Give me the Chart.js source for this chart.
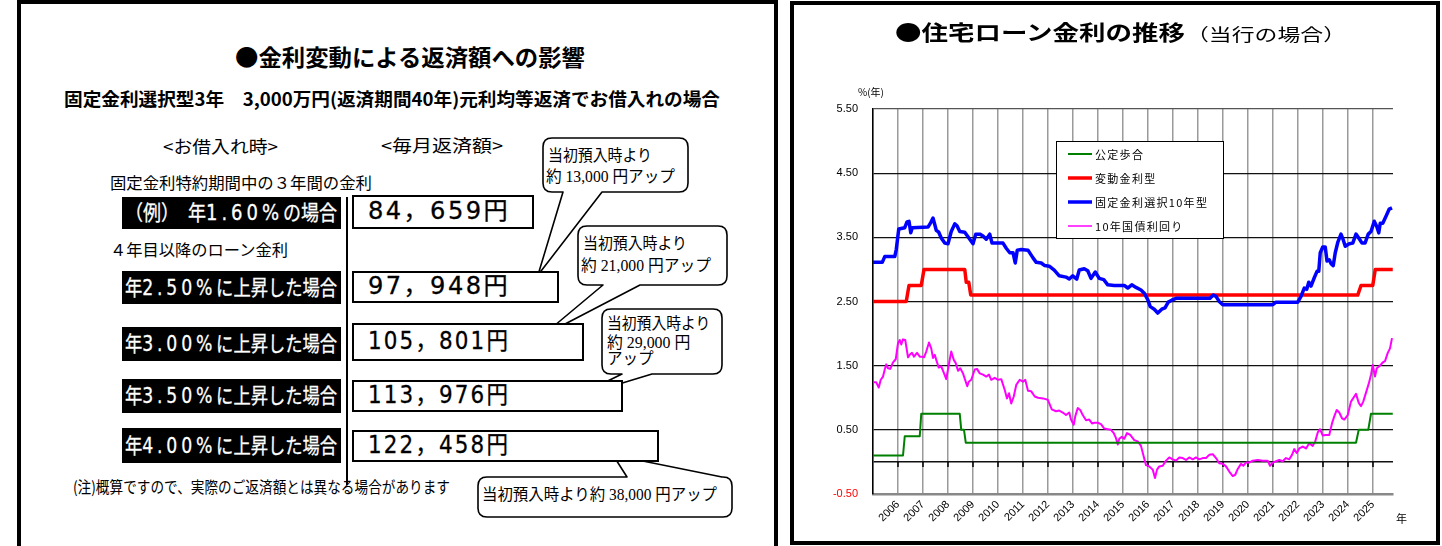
<!DOCTYPE html>
<html><head><meta charset="utf-8">
<script src="https://cdn.jsdelivr.net/npm/chart.js@4.4.1/dist/chart.umd.min.js"></script>
<style>
html,body{margin:0;padding:0;background:#fff;}
body{width:1442px;height:546px;position:relative;overflow:hidden;font-family:"Noto Sans CJK JP","Noto Sans",sans-serif;color:#000;}
#stage{position:absolute;left:0;top:0;width:1442px;height:546px;}
.t{position:absolute;white-space:nowrap;line-height:1;transform-origin:0 0;}
.fw{font-family:"DejaVu Sans","Noto Sans CJK JP",sans-serif;letter-spacing:0.22em;}
.box{position:absolute;box-sizing:border-box;}
#chartWrap{position:absolute;left:791px;top:60px;width:648px;height:484px;}
svg{position:absolute;left:0;top:0;}
</style></head>
<body>
<div id="stage">
  <div class="box" style="left:17px;top:0;width:761px;height:580px;border:4px solid #000;"></div>
  <svg id="bub" width="1442" height="546"></svg>
  <div id="chartWrap"><canvas id="c"></canvas></div>
  <div class="box" style="left:790px;top:1px;width:650px;height:544px;border:4px solid #000;pointer-events:none;"></div>
</div>
<script>
// ---------- left panel data ----------
const rateLabels = ['（例）　年1.60%の場合','年2.50%に上昇した場合','年3.00%に上昇した場合','年3.50%に上昇した場合','年4.00%に上昇した場合'];
const monthlyPayments = [84659, 97948, 105801, 113976, 122458];
const calloutTexts = [
  ['当初預入時より','約 13,000 円アップ'],
  ['当初預入時より','約 21,000 円アップ'],
  ['当初預入時より','約 29,000 円','アップ'],
  ['当初預入時より約 38,000 円アップ']
];

// ---------- right chart data ----------
const seriesNames = ['公定歩合','変動金利型','固定金利選択10年型','10年国債利回り'];
const xTickValues = [2005,2006,2007,2008,2009,2010,2011,2012,2013,2014,2015,2016,2017,2018,2019,2020,2021,2022,2023,2024,2025];
const yTickValues = [-0.5,0,0.5,1.5,2.5,3.5,4.5,5.5];

const discountX = [2005.00,2006.20,2006.27,2006.87,2006.93,2008.47,2008.53,2008.64,2008.71,2024.32,2024.43,2024.81,2024.92,2025.79];
const discountY = [0.10,0.10,0.40,0.40,0.75,0.75,0.50,0.50,0.30,0.30,0.50,0.50,0.75,0.75];

const variableX = [2005.00,2006.33,2006.44,2006.93,2007.04,2008.67,2008.73,2008.83,2008.91,2024.39,2024.52,2024.99,2025.09,2025.79];
const variableY = [2.50,2.50,2.75,2.75,3.00,3.00,2.80,2.80,2.60,2.60,2.75,2.75,3.00,3.00];

const fixed10X = [2005.00,2005.37,2005.47,2005.87,2005.93,2006.03,2006.27,2006.36,2006.44,2006.51,2006.57,2007.20,2007.31,2007.40,2007.47,2007.53,2007.63,2007.73,2007.87,2008.00,2008.13,2008.27,2008.36,2008.47,2008.67,2008.87,2009.00,2009.11,2009.27,2009.40,2009.53,2009.67,2009.76,2010.20,2010.33,2010.47,2010.60,2010.69,2010.77,2010.93,2011.20,2011.40,2011.53,2011.73,2011.87,2012.05,2012.25,2012.45,2012.72,2012.85,2012.99,2013.15,2013.25,2013.45,2013.59,2013.72,2013.89,2014.05,2014.23,2014.39,2014.65,2015.05,2015.19,2015.35,2015.52,2015.72,2015.85,2015.99,2016.09,2016.25,2016.39,2016.55,2016.68,2016.81,2016.95,2017.12,2018.48,2018.61,2018.72,2018.85,2018.99,2020.99,2021.12,2021.99,2022.12,2022.25,2022.35,2022.43,2022.52,2022.65,2022.76,2022.83,2022.89,2022.99,2023.09,2023.16,2023.25,2023.32,2023.41,2023.49,2023.59,2023.72,2023.81,2023.89,2024.05,2024.19,2024.32,2024.43,2024.56,2024.68,2024.81,2024.92,2025.05,2025.15,2025.23,2025.29,2025.39,2025.52,2025.65,2025.76];
const fixed10Y = [3.11,3.11,3.20,3.20,3.31,3.63,3.65,3.74,3.75,3.57,3.65,3.66,3.73,3.80,3.70,3.61,3.58,3.49,3.41,3.40,3.59,3.71,3.68,3.59,3.58,3.47,3.40,3.55,3.55,3.52,3.47,3.55,3.41,3.41,3.33,3.26,3.26,3.10,3.30,3.31,3.30,3.18,3.11,3.10,3.06,3.05,2.99,2.90,2.88,2.85,2.90,2.85,2.99,3.01,2.98,2.86,2.96,2.86,2.84,2.76,2.75,2.75,2.71,2.76,2.72,2.68,2.63,2.53,2.42,2.38,2.32,2.38,2.40,2.49,2.52,2.55,2.55,2.60,2.58,2.50,2.45,2.45,2.49,2.49,2.58,2.71,2.69,2.80,2.74,2.87,2.97,2.97,3.26,3.35,3.35,3.13,3.15,3.09,3.06,3.26,3.42,3.55,3.46,3.36,3.40,3.41,3.55,3.49,3.41,3.41,3.55,3.59,3.75,3.67,3.57,3.72,3.72,3.83,3.94,3.96];

const jgbX = [2005.00,2005.13,2005.23,2005.31,2005.40,2005.47,2005.53,2005.60,2005.69,2005.80,2005.91,2006.00,2006.07,2006.13,2006.20,2006.29,2006.40,2006.47,2006.56,2006.64,2006.76,2006.87,2006.97,2007.04,2007.13,2007.24,2007.33,2007.40,2007.47,2007.53,2007.63,2007.73,2007.83,2007.93,2008.03,2008.13,2008.23,2008.31,2008.40,2008.49,2008.60,2008.71,2008.77,2008.83,2008.93,2009.07,2009.16,2009.27,2009.40,2009.53,2009.64,2009.73,2009.87,2010.00,2010.13,2010.27,2010.36,2010.44,2010.53,2010.63,2010.73,2010.87,2011.00,2011.09,2011.20,2011.33,2011.47,2011.60,2011.80,2011.99,2012.15,2012.32,2012.45,2012.59,2012.72,2012.85,2012.92,2013.03,2013.09,2013.19,2013.29,2013.39,2013.52,2013.65,2013.76,2013.85,2013.99,2014.12,2014.25,2014.39,2014.52,2014.63,2014.72,2014.79,2014.85,2014.95,2015.05,2015.16,2015.29,2015.45,2015.59,2015.72,2015.81,2015.92,2016.05,2016.19,2016.28,2016.36,2016.45,2016.59,2016.72,2016.85,2016.99,2017.12,2017.25,2017.39,2017.52,2017.65,2017.79,2017.92,2018.05,2018.19,2018.32,2018.45,2018.59,2018.72,2018.85,2018.99,2019.12,2019.25,2019.39,2019.49,2019.59,2019.72,2019.81,2019.92,2020.05,2020.19,2020.39,2020.59,2020.79,2020.88,2020.99,2021.12,2021.25,2021.39,2021.52,2021.65,2021.76,2021.85,2021.95,2022.05,2022.19,2022.32,2022.45,2022.59,2022.69,2022.79,2022.88,2022.99,2023.09,2023.25,2023.36,2023.45,2023.55,2023.65,2023.76,2023.85,2023.99,2024.12,2024.25,2024.32,2024.43,2024.52,2024.61,2024.72,2024.83,2024.92,2024.99,2025.08,2025.15,2025.25,2025.39,2025.48,2025.59,2025.68,2025.76];
const jgbY = [1.24,1.24,1.16,1.28,1.33,1.44,1.52,1.46,1.45,1.55,1.60,1.85,1.90,1.83,1.91,1.90,1.63,1.67,1.70,1.64,1.70,1.64,1.64,1.63,1.72,1.86,1.77,1.62,1.67,1.59,1.47,1.49,1.39,1.29,1.51,1.72,1.59,1.54,1.42,1.46,1.38,1.25,1.18,1.25,1.28,1.44,1.45,1.38,1.36,1.33,1.36,1.28,1.31,1.28,1.29,1.12,0.99,1.07,0.91,1.02,1.20,1.28,1.25,1.28,1.11,1.10,1.02,1.00,0.99,0.97,0.82,0.79,0.80,0.77,0.73,0.77,0.66,0.58,0.71,0.84,0.81,0.73,0.65,0.66,0.60,0.61,0.61,0.59,0.52,0.51,0.50,0.45,0.37,0.27,0.36,0.39,0.36,0.45,0.42,0.34,0.32,0.25,0.11,-0.05,-0.07,-0.12,-0.25,-0.12,-0.07,-0.06,0.02,0.07,0.04,0.02,0.07,0.06,0.03,0.07,0.04,0.07,0.04,0.06,0.06,0.11,0.12,0.06,-0.02,-0.03,-0.07,-0.15,-0.22,-0.20,-0.11,-0.03,-0.06,-0.01,-0.01,0.02,0.03,0.02,0.02,-0.06,-0.01,0.01,0.03,0.01,0.06,0.04,0.11,0.20,0.14,0.21,0.24,0.21,0.29,0.25,0.32,0.46,0.51,0.41,0.42,0.42,0.60,0.71,0.81,0.77,0.68,0.66,0.73,0.94,1.02,1.06,0.92,0.87,0.94,1.08,1.22,1.36,1.51,1.33,1.46,1.49,1.55,1.57,1.70,1.77,1.93];

// ---------- layout helpers ----------
const stage = document.getElementById('stage');
const esc = s => s.replace(/&/g,'&amp;').replace(/</g,'&lt;').replace(/>/g,'&gt;');
function T(txt, x, cy, size, w, o = {}) {
  const d = document.createElement('div');
  d.className = 't';
  if (o.fwDigits) {
    d.innerHTML = esc(txt).replace(/([0-9.%]+)/g, '<span class="fw">$1</span>');
  } else {
    d.textContent = txt;
  }
  d.style.fontSize = size + 'px';
  d.style.left = x + 'px';
  d.style.top = (cy - size * (o.k || 0.56)) + 'px';
  if (o.bold) d.style.fontWeight = '700';
  if (o.color) d.style.color = o.color;
  if (o.fam) d.style.fontFamily = o.fam;
  if (o.ls) d.style.letterSpacing = o.ls;
  if (o.stroke) d.style.webkitTextStroke = o.stroke;
  stage.appendChild(d);
  const nat = d.getBoundingClientRect().width;
  if (w && nat > 0) d.style.transform = 'scaleX(' + (w / nat) + ')';
  return d;
}
function B(x1, y1, x2, y2, css) {
  const d = document.createElement('div');
  d.className = 'box';
  d.style.left = x1 + 'px'; d.style.top = y1 + 'px';
  d.style.width = (x2 - x1) + 'px'; d.style.height = (y2 - y1) + 'px';
  d.style.cssText += css;
  stage.appendChild(d);
  return d;
}
const fmtYen = v => v.toLocaleString('en-US').replace(/,/g, '，') + '円';

function buildLeft() {
  T('●金利変動による返済額への影響', 235, 58, 23, 350, {bold: true});
  T('固定金利選択型3年　3,000万円(返済期間40年)元利均等返済でお借入れの場合', 64, 99, 18, 656, {bold: true});
  T('<お借入れ時>', 163, 146.5, 17, 115);
  T('<毎月返済額>', 381, 145.5, 17, 122);
  T('固定金利特約期間中の３年間の金利', 110, 183, 16, 262);
  T('４年目以降のローン金利', 110, 250, 16, 178);
  T('(注)概算ですので、実際のご返済額とは異なる場合があります', 73, 486.5, 16, 377);

  // layout geometry of the rows (style)
  const blackRows = [[197,229],[271,304],[327,361],[379,413],[428,463]];
  const whiteRows = [[195,229,534],[271,303,559],[323,361,584],[380,412,623],[430,462,659]];
  B(345.5, 197, 347.5, 485, 'background:#000;');
  rateLabels.forEach((lab, i) => {
    const [y1, y2] = blackRows[i];
    B(122, y1, 341, y2, 'background:#000;');
    T(lab, 125, (y1 + y2) / 2, 21, 212, {color: '#fff', fwDigits: true, stroke: '0.3px #fff'});
  });
  monthlyPayments.forEach((v, i) => {
    const [y1, y2, xr] = whiteRows[i];
    B(352, y1, xr, y2, 'border:2.5px solid #000;background:#fff;');
    const s = fmtYen(v);
    T(s, 368, (y1 + y2) / 2 - 0.5, 24, s.length > 8 ? 166 : 142,
      {fam: '"DejaVu Sans","Noto Sans CJK JP",sans-serif', ls: '0.1em', stroke: '0.3px #000', k: 0.52});
  });

  // callouts
  const geo = [
    {x1:543,y1:138,x2:688,y2:192,edge:'b',a:563,b:602,tx:538,ty:275},
    {x1:578,y1:226,x2:727,y2:285,edge:'b',a:603,b:640,tx:542,ty:336},
    {x1:602,y1:309,x2:722,y2:374,edge:'b',a:622,b:652,tx:573,ty:398},
    {x1:478,y1:477,x2:732,y2:517,edge:'t',a:627,b:722,tx:613,ty:455}
  ];
  const r = 9;
  let svg = '';
  geo.forEach(g => {
    const {x1,y1,x2,y2,a,b,tx,ty} = g;
    let p;
    if (g.edge === 'b') {
      p = `M${x1+r},${y1} H${x2-r} Q${x2},${y1} ${x2},${y1+r} V${y2-r} Q${x2},${y2} ${x2-r},${y2} H${b} L${tx},${ty} L${a},${y2} H${x1+r} Q${x1},${y2} ${x1},${y2-r} V${y1+r} Q${x1},${y1} ${x1+r},${y1} Z`;
    } else {
      p = `M${x1+r},${y1} H${a} L${tx},${ty} L${b},${y1} H${x2-r} Q${x2},${y1} ${x2},${y1+r} V${y2-r} Q${x2},${y2} ${x2-r},${y2} H${x1+r} Q${x1},${y2} ${x1},${y2-r} V${y1+r} Q${x1},${y1} ${x1+r},${y1} Z`;
    }
    svg += `<path d="${p}" fill="#fff" stroke="#000" stroke-width="1.6" stroke-linejoin="round"/>`;
  });
  document.getElementById('bub').innerHTML = svg;
  const fam = '"Liberation Serif","Noto Sans CJK JP",serif';
  const txtPos = [
    [[548,155.8,104],[546,176.7,129]],
    [[582.7,244,104],[580.7,265.8,130]],
    [[606.7,323.7,103.3],[606.7,343.3,83.3],[606.7,359,46.7]],
    [[481.7,494.7,235]]
  ];
  calloutTexts.forEach((lines, i) => {
    lines.forEach((ln, j) => {
      const [x, cy, w] = txtPos[i][j];
      T(ln, x, cy, 16, w, {fam, k: 0.5});
    });
  });
}

function buildRightTexts() {
  T('●住宅ローン金利の推移', 894.5, 33, 21, 290, {bold: true});
  T('（当行の場合）', 1186, 35, 17, 160);
  T('%(年)', 858, 93, 10, 0);
  T('年', 1396, 519, 11, 0);
}

function buildChart() {
  const pts = (xs, ys) => xs.map((x, i) => ({x, y: ys[i]}));
  const zeroTicks = {
    id: 'zeroTicks',
    beforeDatasetsDraw(ch) {
      const c = ch.ctx, xs = ch.scales.x, ys = ch.scales.y;
      const y0 = ys.getPixelForValue(0);
      c.save(); c.strokeStyle = '#000'; c.lineWidth = 1.5;
      xTickValues.slice(1).forEach(v => {
        const x = xs.getPixelForValue(v);
        c.beginPath(); c.moveTo(x, y0); c.lineTo(x, y0 + 5); c.stroke();
      });
      c.restore();
    }
  };
  const legendBox = {
    id: 'legendBox',
    afterDatasetsDraw(ch) {
      const c = ch.ctx, a = ch.chartArea;
      const bx = a.left + 183, by = a.top + 32, bw = 167, bh = 97;
      c.save();
      c.fillStyle = '#fff'; c.fillRect(bx, by, bw, bh);
      c.strokeStyle = '#000'; c.lineWidth = 1; c.strokeRect(bx + 0.5, by + 0.5, bw, bh);
      c.font = '11px "Noto Sans CJK JP"';
      c.textBaseline = 'middle'; c.fillStyle = '#000';
      try { c.letterSpacing = '1.3px'; } catch (e) {}
      ch.data.datasets.forEach((ds, i) => {
        const y = by + 13 + i * 24;
        c.strokeStyle = ds.borderColor; c.lineWidth = ds.legendWidth;
        c.beginPath(); c.moveTo(bx + 12, y); c.lineTo(bx + 36, y); c.stroke();
        c.fillText(ds.label, bx + 39, y + 0.5);
      });
      c.restore();
    }
  };
  new Chart(document.getElementById('c'), {
    type: 'line',
    data: {
      datasets: [
        {label: seriesNames[0], data: pts(discountX, discountY), borderColor: '#008000', borderWidth: 2, legendWidth: 2, order: 3},
        {label: seriesNames[1], data: pts(variableX, variableY), borderColor: '#ff0000', borderWidth: 3.5, legendWidth: 3.5, order: 2},
        {label: seriesNames[2], data: pts(fixed10X, fixed10Y), borderColor: '#0000ff', borderWidth: 3.5, legendWidth: 3.5, order: 1},
        {label: seriesNames[3], data: pts(jgbX, jgbY), borderColor: '#ff00ff', borderWidth: 2, legendWidth: 1.5, order: 4}
      ]
    },
    options: {
      animation: false, responsive: true, maintainAspectRatio: false, devicePixelRatio: 1,
      elements: {point: {radius: 0}, line: {tension: 0, borderJoinStyle: 'round', fill: false}},
      layout: {padding: {top: 49, right: 46, left: 0, bottom: 0}},
      plugins: {legend: {display: false}, tooltip: {enabled: false}},
      scales: {
        x: {
          type: 'linear', min: 2005, max: 2025.8,
          afterBuildTicks: ax => { ax.ticks = xTickValues.map(v => ({value: v})); },
          afterFit: s => { s.height = 50; },
          grid: {color: c => (c.tick && c.tick.value === 2005) ? 'rgba(0,0,0,0)' : '#9a9a9a', lineWidth: 1.5, drawTicks: false, tickLength: 0},
          border: {color: '#888', width: 2.5},
          ticks: {autoSkip: false, maxRotation: 45, minRotation: 45, padding: 4, color: '#000',
                  font: {family: '"Liberation Sans", Arial', size: 11},
                  callback: v => v === 2005 ? '' : String(v)}
        },
        y: {
          min: -0.5, max: 5.5,
          afterBuildTicks: ax => { ax.ticks = yTickValues.map(v => ({value: v})); },
          afterFit: s => { s.width = 82; },
          grid: {
            color: c => { const v = c.tick ? c.tick.value : null; if (v === -0.5) return 'rgba(0,0,0,0)'; if (v === 5.5) return '#555'; return '#111'; },
            lineWidth: c => (c.tick && c.tick.value === 0) ? 1.6 : 1.2,
            drawTicks: false, tickLength: 0
          },
          border: {color: '#000', width: 1.6},
          ticks: {padding: 15, color: c => c.tick.value < 0 ? '#ff0000' : '#000',
                  font: {family: '"Liberation Sans", Arial', size: 11},
                  callback: v => v === 0 ? '' : v.toFixed(2)}
        }
      }
    },
    plugins: [zeroTicks, legendBox]
  });
}

function go() { buildLeft(); buildRightTexts(); buildChart(); }
if (document.fonts && document.fonts.ready) { document.fonts.ready.then(go); } else { go(); }
</script>
</body></html>
